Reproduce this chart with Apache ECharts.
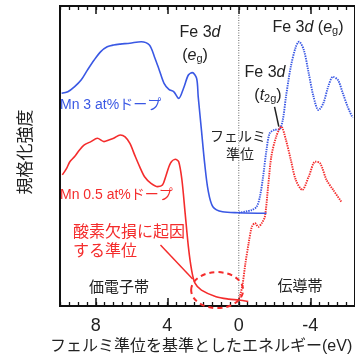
<!DOCTYPE html>
<html><head><meta charset="utf-8">
<script src="https://cdn.jsdelivr.net/npm/echarts@6/dist/echarts.min.js"></script>
<style>html,body{margin:0;padding:0;background:#fff}#c{width:355px;height:361px}</style>
</head><body><div id="c"></div>
<script>
// Energy relative to Fermi level (eV) vs normalized intensity (a.u.)
const blueValence = [[9.91,70.9],[9.56,71.4],[9.18,73.1],[8.82,75.3],[8.46,78.7],[8.09,82],[7.72,84.8],[7.36,86.4],[7.0,87],[6.63,87.3],[6.09,87.6],[5.46,88.1],[5.0,87],[4.72,83.1],[4.45,78.7],[4.18,74.2],[3.91,72.2],[3.63,71.4],[3.36,69.2],[3.09,72.6],[2.82,77],[2.60,77.8],[2.36,75.9],[2.27,69.8],[2.09,58.7],[1.91,47.6],[1.72,38.7],[1.45,33.1],[0.91,31.4],[0,31.1],[-1.55,30.9]];
const blueConduction = [[0,31.1],[-0.73,32],[-1.0,33.1],[-1.18,36.4],[-1.36,43.1],[-1.55,52],[-1.73,57.6],[-2.0,58.7],[-2.27,58.9],[-2.46,62],[-2.64,69.8],[-2.91,79.8],[-3.19,86.4],[-3.37,88.1],[-3.64,85.3],[-3.91,77.6],[-4.18,69.8],[-4.46,65.3],[-4.73,67.6],[-5.0,73.1],[-5.27,76.4],[-5.55,75.3],[-5.82,70.9],[-6.09,66.4],[-6.37,62.7]];
const redValence = [[9.87,43.7],[9.63,45.9],[9.45,48.1],[9.18,49.8],[8.91,52],[8.64,53.7],[8.27,54.8],[7.91,55.9],[7.54,54.8],[7.27,55.3],[7.0,55.9],[6.63,57],[6.36,56.4],[6.09,54.2],[5.82,50.3],[5.54,46.4],[5.27,43.1],[4.91,40.9],[4.54,39.8],[4.27,40.3],[4.09,43.1],[3.82,47.6],[3.55,48.9],[3.36,48.1],[3.18,42],[3.0,30.9],[2.82,19.8],[2.64,12],[2.45,7.6],[2.09,5.3],[1.27,3.1],[0.56,2.3],[0,2],[-0.53,1.5]];
const redConduction = [[0,2],[-0.19,6.4],[-0.37,14.2],[-0.55,20.9],[-0.73,26.4],[-0.91,27.6],[-1.09,26.4],[-1.28,27.6],[-1.46,29.8],[-1.64,39.8],[-1.82,49.8],[-2.09,56.4],[-2.37,59.8],[-2.64,55.3],[-2.91,48.7],[-3.19,42],[-3.55,38.7],[-3.91,43.1],[-4.28,48.1],[-4.55,47.6],[-4.91,42],[-5.28,38.7],[-5.73,34.8]];
const fermiLine = [[0,0],[0,100]];
const majorTicks = [-4,0,4,8];
// annotation anchors (data space)
const ovalCenter = [1.21, 5.3];
const redLeader = [[4.38,20.3],[2.58,9.0]];
const t2gLeader = [[-2.0,66.4],[-2.24,59.8]];

const BLUE = '#3a58e4', RED = '#f42c2c', INK = '#222';
const F = '"Liberation Sans", Arial, "Noto Sans CJK JP", sans-serif';
const chart = echarts.init(document.getElementById('c'), null, {renderer:'canvas'});

function baseX(pos, major){
  return {
    type:'value', inverse:true, min:-6.5, max:10, position:pos,
    interval: 0.5,
    axisLine:{show:!major, onZero:false, lineStyle:{color:'#111', width:2}},
    axisTick:major
      ? {show:true, inside:true, length:8, customValues:majorTicks, lineStyle:{color:'#111', width:1.5}}
      : {show:true, inside:true, length:4, lineStyle:{color:'#111', width:1.3}},
    axisLabel:(major && pos==='bottom')
      ? {show:true, customValues:majorTicks, fontSize:18, color:INK, fontFamily:F, margin:11, formatter:v=>String(v)}
      : {show:false},
    splitLine:{show:false}
  };
}
function line(data, color, dotted, z){
  return {type:'line', data, showSymbol:false, smooth:0.3, z:z||2,
    lineStyle:{color, width: dotted ? 1.9 : 1.6, type: dotted ? [1.4,1] : 'solid'}, silent:true, animation:false};
}

chart.setOption({
  animation:false,
  grid:{left:60, right:-7.5, top:6, bottom:55, containLabel:false,
    show:true, borderColor:'#111', borderWidth:2, backgroundColor:'rgba(0,0,0,0)'},
  xAxis:[baseX('bottom',false), baseX('bottom',true), baseX('top',false), baseX('top',true)],
  yAxis:{type:'value', min:0, max:100, axisLine:{show:true, lineStyle:{color:'#fff', width:1}},
    name:'規格化強度', nameLocation:'middle', nameGap:25,
    nameTextStyle:{fontSize:17, color:INK, fontFamily:F, padding:[0,0,0,8]},
    axisTick:{show:false}, axisLabel:{show:false}, splitLine:{show:false}},
  series:[
    {type:'line', data:fermiLine, showSymbol:false, lineStyle:{color:'#666', width:1, type:[1,1.5]}, z:1, silent:true},
    line(blueConduction, BLUE, true, 2),
    line(blueValence, BLUE, false, 3),
    line(redConduction, RED, true, 2),
    line(redValence, RED, false, 3)
  ]
});

const px = p => chart.convertToPixel({xAxisIndex:0, yAxisIndex:0}, p);
const c = px(ovalCenter);
const rl0 = px(redLeader[0]), rl1 = px(redLeader[1]);
const tl0 = px(t2gLeader[0]), tl1 = px(t2gLeader[1]);

function txt(text, x, y, opts){
  return {type:'text', z:10, style:Object.assign({text, x, y, fill:INK, fontSize:15, fontFamily:F, align:'center', verticalAlign:'middle'}, opts||{})};
}
const rich = {
  n:{fontSize:16, fontFamily:F, fill:INK, verticalAlign:'bottom', lineHeight:18},
  i:{fontSize:16, fontFamily:F, fill:INK, fontStyle:'italic', verticalAlign:'bottom', lineHeight:18},
  s:{fontSize:11, fontFamily:F, fill:INK, verticalAlign:'bottom', lineHeight:14}
};

chart.setOption({
  graphic:[
    {type:'ellipse', z:9, shape:{cx:c[0], cy:c[1], rx:26, ry:18}, style:{fill:'none', stroke:RED, lineWidth:2, lineDash:[5,4]}},
    {type:'line', z:9, shape:{x1:rl0[0], y1:rl0[1], x2:rl1[0], y2:rl1[1]}, style:{stroke:RED, lineWidth:1.5}},
    {type:'line', z:9, shape:{x1:tl0[0], y1:tl0[1], x2:tl1[0], y2:tl1[1]}, style:{stroke:'#222', lineWidth:1.5}},
    txt('{n|Fe 3}{i|d}', 200, 32, {rich}),
    txt('{n|(}{i|e}{s|g}{n|)}', 195, 55, {rich}),
    txt('{n|Fe 3}{i|d}{n| (}{i|e}{s|g}{n|)}', 308, 27, {rich}),
    txt('{n|Fe 3}{i|d}', 265, 72, {rich}),
    txt('{n|(}{i|t}{s|2g}{n|)}', 268, 95, {rich}),
    txt('フェルミ', 238, 137, {fontSize:14}),
    txt('準位', 240, 155, {fontSize:14}),
    txt('Mn 3 at%ドープ', 60, 105, {fontSize:14, fill:BLUE, align:'left'}),
    txt('Mn 0.5 at%ドープ', 60, 195, {fontSize:14, fill:RED, align:'left'}),
    txt('酸素欠損に起因', 73, 233, {fontSize:16, fill:RED, align:'left'}),
    txt('する準位', 73, 252, {fontSize:16, fill:RED, align:'left'}),
    txt('価電子帯', 119, 288, {fontSize:15}),
    txt('伝導帯', 300, 287, {fontSize:15}),
    txt('フェルミ準位を基準としたエネルギー(eV)', 50, 347, {fontSize:16, align:'left'})
  ]
});
</script>
</body></html>
